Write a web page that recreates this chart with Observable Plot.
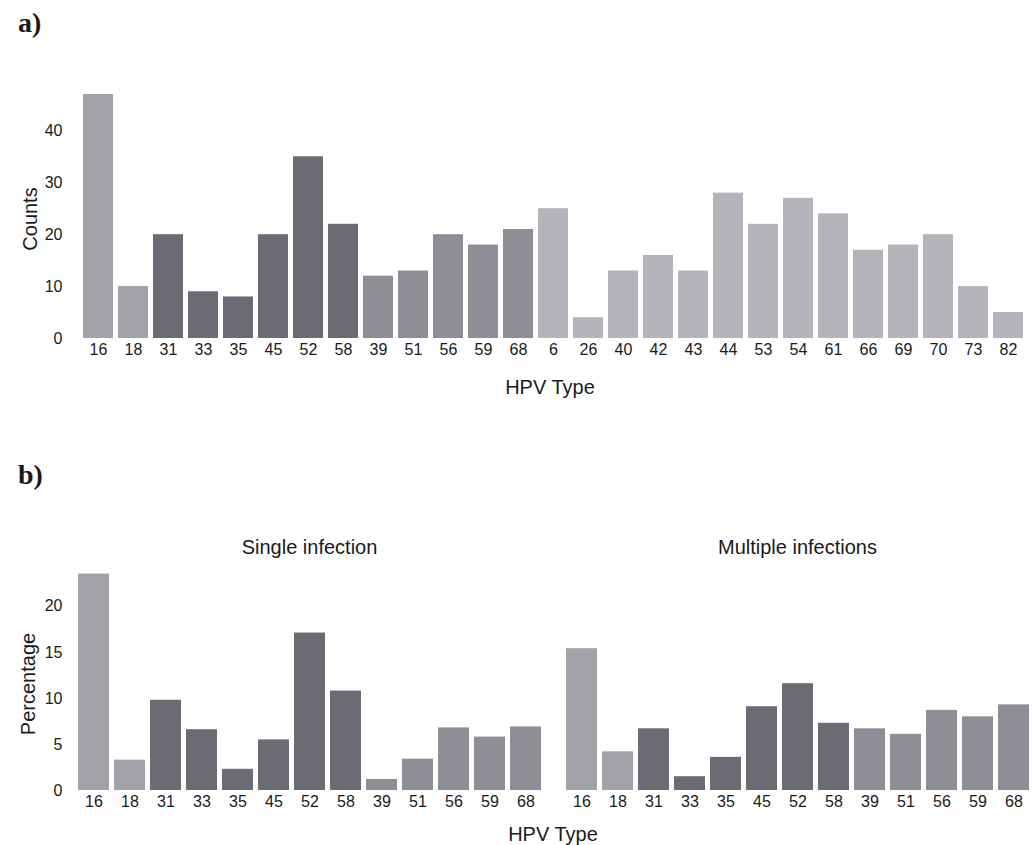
<!DOCTYPE html>
<html>
<head>
<meta charset="utf-8">
<script src="https://cdn.jsdelivr.net/npm/d3@7"></script>
<script src="https://cdn.jsdelivr.net/npm/@observablehq/plot@0.6"></script>
<style>
  body { margin: 0; background: #fff; font-family: "Liberation Sans", Arial, sans-serif; }
  #wrap { position: relative; width: 1035px; height: 845px; overflow: hidden; background: #fff; }
  .abs { position: absolute; }
  .panel { font-family: "Liberation Serif", "DejaVu Serif", serif; font-weight: bold; font-size: 28px; line-height: 1; color: #1a1a1a; }
  .lab { font-size: 20px; line-height: 1; color: #1a1a1a; white-space: nowrap; }
  .ctr { transform: translate(-50%, -50%); }
  .rot { transform: translate(-50%, -50%) rotate(-90deg); }
  svg [aria-label^="fx-axis"] text { font-size: 20px; }
</style>
</head>
<body>
<div id="wrap">
  <div class="abs panel" style="left:18px; top:9px;">a)</div>
  <div class="abs panel" style="left:18px; top:461px;">b)</div>
  <div id="plotA" class="abs" style="left:0; top:78px;"></div>
  <div id="plotB" class="abs" style="left:0; top:520px;"></div>
  <div class="abs lab rot" style="left:30px; top:219px;">Counts</div>
  <div class="abs lab ctr" style="left:550px; top:387px;">HPV Type</div>
  <div class="abs lab rot" style="left:28px; top:684px;">Percentage</div>
  <div class="abs lab ctr" style="left:553px; top:834px;">HPV Type</div>
</div>
<script>
// ---- Panel a: counts by HPV type ----
const typesA = ["16","18","31","33","35","45","52","58","39","51","56","59","68",
                "6","26","40","42","43","44","53","54","61","66","69","70","73","82"];
const countsA = [47,10,20,9,8,20,35,22,12,13,20,18,21,
                 25,4,13,16,13,28,22,27,24,17,18,20,10,5];
const riskA = ["HR16/18","HR16/18","HR9v","HR9v","HR9v","HR9v","HR9v","HR9v",
               "HRother","HRother","HRother","HRother","HRother",
               "LR","LR","LR","LR","LR","LR","LR","LR","LR","LR","LR","LR","LR","LR"];

// ---- Panel b: percentage, single vs multiple infections ----
const typesB = ["16","18","31","33","35","45","52","58","39","51","56","59","68"];
const riskB = ["HR16/18","HR16/18","HR9v","HR9v","HR9v","HR9v","HR9v","HR9v",
               "HRother","HRother","HRother","HRother","HRother"];
const singlePct   = [23.5,3.3,9.8,6.6,2.3,5.5,17.1,10.8,1.2,3.4,6.8,5.8,6.9];
const multiplePct = [15.4,4.2,6.7,1.5,3.6,9.1,11.6,7.3,6.7,6.1,8.7,8.0,9.3];
const infectionGroups = ["Single infection","Multiple infections"];

const riskKeys = ["HR16/18","HR9v","HRother","LR"];
const riskColors = ["#a2a2a9","#6b6b73","#8e8e96","#b4b4ba"];

const dataA = typesA.map((t, i) => ({type: t, value: countsA[i], risk: riskA[i]}));
const dataB = [
  ...typesB.map((t, i) => ({group: infectionGroups[0], type: t, value: singlePct[i], risk: riskB[i]})),
  ...typesB.map((t, i) => ({group: infectionGroups[1], type: t, value: multiplePct[i], risk: riskB[i]}))
];

const baseStyle = {fontFamily: "'Liberation Sans', Arial, sans-serif", fontSize: "16px", color: "#1a1a1a", background: "transparent", overflow: "visible"};

const plotA = Plot.plot({
  width: 1035, height: 290,
  marginTop: 16, marginBottom: 30, marginLeft: 76, marginRight: 5,
  style: baseStyle,
  x: {domain: typesA, paddingInner: 0.15, paddingOuter: 0.03, label: null, tickSize: 0, tickPadding: 5},
  y: {domain: [0, 47], ticks: 5, label: null, tickSize: 0, tickPadding: 14},
  color: {domain: riskKeys, range: riskColors},
  marks: [
    Plot.barY(dataA, {x: "type", y: "value", fill: "risk"})
  ]
});
document.getElementById("plotA").appendChild(plotA);

const plotB = Plot.plot({
  width: 1035, height: 296,
  marginTop: 49, marginBottom: 26, marginLeft: 76, marginRight: 5,
  style: baseStyle,
  facet: {data: dataB, x: "group"},
  fx: {domain: infectionGroups, paddingInner: 0.046, paddingOuter: 0, label: null, tickSize: 0, tickPadding: 16},
  x: {domain: typesB, paddingInner: 0.14, paddingOuter: 0.035, label: null, tickSize: 0, tickPadding: 5},
  y: {domain: [0, 24], ticks: 5, label: null, tickSize: 0, tickPadding: 14},
  color: {domain: riskKeys, range: riskColors},
  marks: [
    Plot.barY(dataB, {x: "type", y: "value", fill: "risk"})
  ]
});
document.getElementById("plotB").appendChild(plotB);
</script>
</body>
</html>
